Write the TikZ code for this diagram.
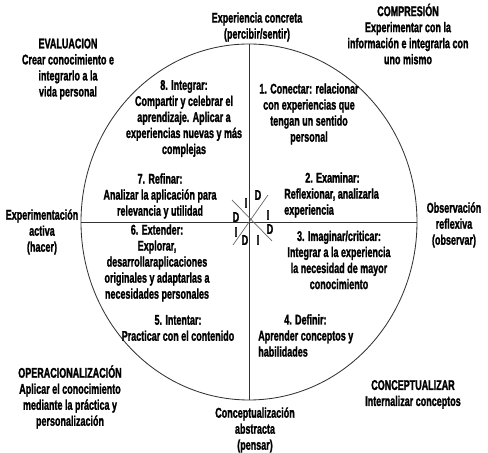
\documentclass[tikz,border=0pt]{standalone}
\usepackage{fontspec}
\setmainfont{Liberation Sans}[BoldFont={Liberation Sans Bold}, BoldFeatures={FakeBold=1.5}, FakeStretch=0.64]
\begin{document}
\begin{tikzpicture}[scale=1.0,
    txt/.style={font=\fontsize{10}{11.4}\selectfont\bfseries, align=center, inner sep=0pt},
    axis/.style={black!80, line width=0.6pt}]
  \useasboundingbox (-6.225,-5.775) rectangle (5.975,5.55);
  \draw[axis] (0,0) ellipse[x radius=4.2, y radius=4.45];
  \draw[axis] (-4.2,0) -- (4.2,0);
  \draw[axis] (0,-4.45) -- (0,4.45);
  \draw[black!60, line width=0.5pt] (-0.425,0.55) -- (0.575,-0.475);
  \draw[black!60, line width=0.5pt] (0.475,0.675) -- (-0.4,-0.575);
  \foreach \x/\y/\lbl [count=\i] in {-0.325/0.125/D, -0.075/0.475/I, 0.225/0.675/D, 0.475/0.175/I, 0.525/-0.175/D, 0.225/-0.45/I, -0.1/-0.45/D, -0.325/-0.25/I}
    \node[txt] (id\i) at (\x,\y) {\lbl};
  % outer texts
  \node[txt] (concreta) at (0.2,4.875) {Experiencia concreta\\(percibir/sentir)};
  \node[txt] (compresion) at (3.975,4.7) {COMPRESIÓN\\Experimentar con la\\información e integrarla con\\uno mismo};
  \node[txt] (evaluacion) at (-4.525,3.825) {EVALUACION\\Crear conocimiento e\\integrarlo a la\\vida personal};
  \node[txt] (activa) at (-5.175,-0.25) {Experimentación\\activa\\(hacer)};
  \node[txt] (reflexiva) at (5.125,-0.075) {Observación\\reflexiva\\(observar)};
  \node[txt] (operacion) at (-4.475,-4.375) {OPERACIONALIZACIÓN\\Aplicar el conocimiento\\mediante la práctica y\\personalización};
  \node[txt] (conceptualizar) at (4.1,-4.3125) {CONCEPTUALIZAR\\Internalizar conceptos};
  \node[txt] (abstracta) at (0.15,-5.2) {Conceptualización\\abstracta\\(pensar)};
  % steps
  \node[txt] (conectar) at (1.5,2.7) {1. Conectar: relacionar\\con experiencias que\\tengan un sentido\\personal};
  \node[txt, anchor=west, align=left] (examinar) at (0.875,0.675) {\hspace{0.525cm}2. Examinar:\\Reflexionar, analizarla\\experiencia};
  \node[txt] (imaginar) at (2.25,-0.95) {3. Imaginar/criticar:\\Integrar a la experiencia\\la necesidad de mayor\\conocimiento};
  \node[txt, anchor=west, align=left] (definir) at (0.225,-2.8375) {\hspace{0.65cm}4. Definir:\\Aprender conceptos y\\habilidades};
  \node[txt] (intentar) at (-1.775,-2.65) {5. Intentar:\\Practicar con el contenido};
  \node[txt] (extender) at (-2.3,-1.025) {6. Extender:\\Explorar,\\desarrollaraplicaciones\\originales y adaptarlas a\\necesidades personales};
  \node[txt] (refinar) at (-2.225,0.65) {7. Refinar:\\Analizar la aplicación para\\relevancia y utilidad};
  \node[txt] (integrar) at (-1.625,2.5875) {8. Integrar:\\Compartir y celebrar el\\aprendizaje. Aplicar a\\experiencias nuevas y más\\complejas};
\end{tikzpicture}
\end{document}
